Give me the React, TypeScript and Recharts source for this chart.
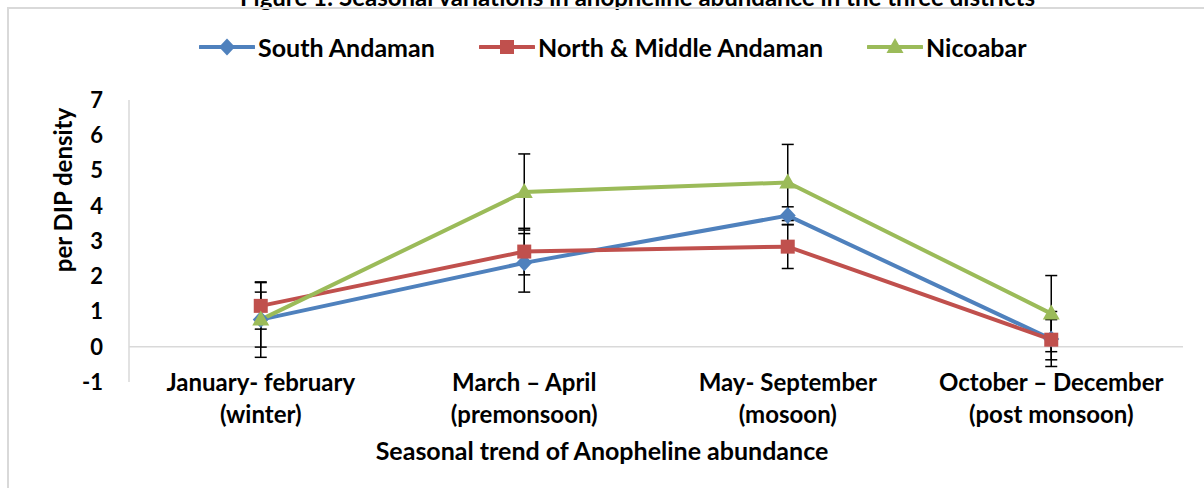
import React from "react";
import { LineChart, Line, XAxis, YAxis, ErrorBar, ReferenceLine, Label } from "recharts";

const seasonLine1 = ["January- february", "March – April", "May- September", "October – December"];
const seasonLine2 = ["(winter)", "(premonsoon)", "(mosoon)", "(post monsoon)"];

const southAndaman = [0.77, 2.38, 3.72, 0.22];
const southErr = [0.78, 0.83, 0.25, 0.78];
const northMiddle = [1.16, 2.7, 2.84, 0.2];
const northErr = [0.66, 0.66, 0.62, 0.57];
const nicobar = [0.77, 4.39, 4.66, 0.94];
const nicobarErr = [1.07, 1.08, 1.08, 1.08];

const yTicks = [-1, 0, 1, 2, 3, 4, 5, 6, 7];

const data = seasonLine1.map((s, i) => ({
  season: s,
  sa: southAndaman[i],
  saErr: southErr[i],
  nm: northMiddle[i],
  nmErr: northErr[i],
  nic: nicobar[i],
  nicErr: nicobarErr[i],
}));

const BLUE = "#4f81bd";
const RED = "#c0504d";
const GREEN = "#9bbb59";
const FONT = "Lato, 'Liberation Sans', sans-serif";

const diamond = (cx: number, cy: number, key?: any) => (
  <polygon key={key} points={`${cx},${cy - 8.5} ${cx + 8},${cy} ${cx},${cy + 8.5} ${cx - 8},${cy}`} fill={BLUE} />
);
const square = (cx: number, cy: number, key?: any) => (
  <rect key={key} x={cx - 7} y={cy - 7} width={14} height={14} fill={RED} />
);
const triangle = (cx: number, cy: number, key?: any) => (
  <polygon key={key} points={`${cx},${cy - 9} ${cx + 8.5},${cy + 6} ${cx - 8.5},${cy + 6}`} fill={GREEN} />
);

const SeasonTick = (props: any) => {
  const { x, y, payload } = props;
  const i = seasonLine1.indexOf(payload.value);
  return (
    <g>
      <text x={x} y={y + 9} textAnchor="middle" fontSize={24} fontWeight={700} fill="#000" fontFamily={FONT}>
        {payload.value}
      </text>
      <text x={x} y={y + 41} textAnchor="middle" fontSize={24} fontWeight={700} fill="#000" fontFamily={FONT}>
        {seasonLine2[i]}
      </text>
    </g>
  );
};

const legendItems = [
  { name: "South Andaman", color: BLUE, mark: diamond, left: 199 },
  { name: "North & Middle Andaman", color: RED, mark: square, left: 479 },
  { name: "Nicoabar", color: GREEN, mark: triangle, left: 867 },
];

export default function App() {
  return (
    <div style={{ position: "absolute", left: 0, top: 0, width: 1204, height: 488, overflow: "hidden", background: "#fff" }}>
      <div
        style={{
          position: "absolute",
          left: 240,
          top: -18,
          whiteSpace: "nowrap",
          fontFamily: FONT,
          fontWeight: 700,
          fontSize: 24,
        }}
      >
        Figure 1: Seasonal variations in anopheline abundance in the three districts
      </div>
      <div
        style={{
          position: "absolute",
          left: 7,
          top: 7,
          width: 1300,
          height: 600,
          borderLeft: "2px solid #d9d9d9",
          borderTop: "2px solid #d9d9d9",
        }}
      />
      {legendItems.map((it) => (
        <div
          key={it.name}
          style={{
            position: "absolute",
            left: it.left,
            top: 32,
            height: 30,
            display: "flex",
            alignItems: "center",
            whiteSpace: "nowrap",
            fontFamily: FONT,
            fontWeight: 700,
            fontSize: 25,
          }}
        >
          <svg width={56} height={24} style={{ marginRight: 3 }}>
            <line x1={1} y1={12} x2={55} y2={12} stroke={it.color} strokeWidth={4} strokeLinecap="round" />
            {it.mark(28, 12)}
          </svg>
          <span>{it.name}</span>
        </div>
      ))}
      <div style={{ position: "absolute", left: 0, top: 0 }}>
        <LineChart width={1204} height={488} data={data} margin={{ top: 100, right: 21, bottom: 0, left: 0 }}>
          <XAxis
            dataKey="season"
            scale="band"
            axisLine={false}
            tickLine={false}
            tickSize={0}
            tickMargin={0}
            height={106}
            interval={0}
            tick={<SeasonTick />}
          >
            <Label
              content={() => (
                <text
                  x={602}
                  y={460}
                  textAnchor="middle"
                  fontSize={25}
                  fontWeight={700}
                  fill="#000"
                  fontFamily={FONT}
                >
                  Seasonal trend of Anopheline abundance
                </text>
              )}
            />
          </XAxis>
          <YAxis
            width={129}
            domain={[-1, 7]}
            ticks={yTicks}
            interval={0}
            axisLine={{ stroke: "#d9d9d9", strokeWidth: 1.5 }}
            tickLine={false}
            tickSize={0}
            tickMargin={26}
            tick={{ fontSize: 22, fontWeight: 700, fill: "#000", fontFamily: FONT }}
          >
            <Label
              content={() => (
                <text
                  x={62}
                  y={190}
                  transform="rotate(-90, 62, 190)"
                  textAnchor="middle"
                  dominantBaseline="central"
                  fontSize={24}
                  fontWeight={700}
                  fill="#000"
                  fontFamily={FONT}
                >
                  per DIP density
                </text>
              )}
            />
          </YAxis>
          <ReferenceLine y={0} stroke="#d9d9d9" strokeWidth={1.5} />
          <Line
            dataKey="sa"
            stroke={BLUE}
            strokeWidth={4}
            isAnimationActive={false}
            dot={(p: any) => diamond(p.cx, p.cy, `sa${p.index}`)}
            activeDot={false}
          >
            <ErrorBar dataKey="saErr" width={6} stroke="#000" strokeWidth={1.5} direction="y" />
          </Line>
          <Line
            dataKey="nm"
            stroke={RED}
            strokeWidth={4}
            isAnimationActive={false}
            dot={(p: any) => square(p.cx, p.cy, `nm${p.index}`)}
            activeDot={false}
          >
            <ErrorBar dataKey="nmErr" width={6} stroke="#000" strokeWidth={1.5} direction="y" />
          </Line>
          <Line
            dataKey="nic"
            stroke={GREEN}
            strokeWidth={4}
            isAnimationActive={false}
            dot={(p: any) => triangle(p.cx, p.cy, `nic${p.index}`)}
            activeDot={false}
          >
            <ErrorBar dataKey="nicErr" width={6} stroke="#000" strokeWidth={1.5} direction="y" />
          </Line>
        </LineChart>
      </div>
    </div>
  );
}
